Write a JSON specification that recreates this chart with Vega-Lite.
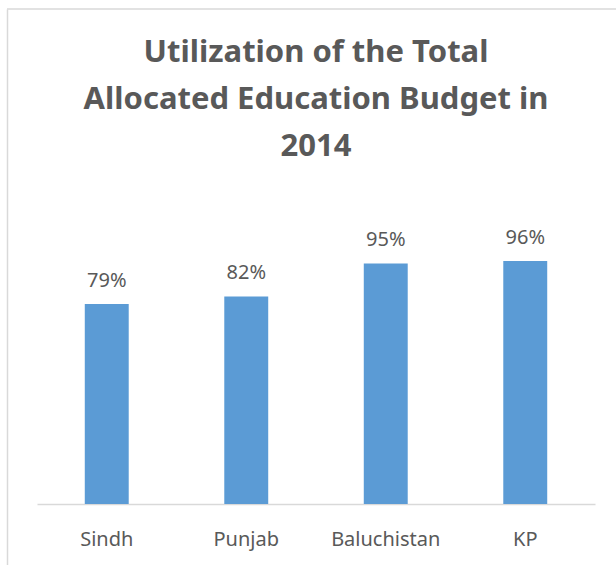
{
  "$schema": "https://vega.github.io/schema/vega-lite/v6.json",
  "autosize": {"type": "none"},
  "width": 609,
  "height": 556,
  "padding": {"left": 7, "top": 9, "right": 0, "bottom": 0},
  "background": "white",
  "config": {
    "font": "Noto Sans",
    "view": {"stroke": null}
  },
  "title": {
    "text": ["Utilization of the Total", "Allocated Education Budget in", "2014"],
    "anchor": "middle",
    "frame": "group",
    "orient": "top",
    "offset": -155,
    "dx": 4.5,
    "fontSize": 31,
    "fontWeight": "bold",
    "lineHeight": 47,
    "color": "#595959",
    "font": "Noto Sans"
  },
  "data": {
    "values": [
      {"province": "Sindh", "utilization": 0.79},
      {"province": "Punjab", "utilization": 0.82},
      {"province": "Baluchistan", "utilization": 0.95},
      {"province": "KP", "utilization": 0.96}
    ]
  },
  "encoding": {
    "x": {
      "field": "province",
      "type": "nominal",
      "sort": null,
      "scale": {"range": [30, 588], "paddingInner": 0.685, "paddingOuter": 0.3425},
      "axis": {
        "title": null,
        "labelAngle": 0,
        "ticks": false,
        "tickSize": 0,
        "labelPadding": 41,
        "labelBaseline": "alphabetic",
        "labelFontSize": 20,
        "labelColor": "#595959",
        "labelFont": "Noto Sans",
        "domainColor": "#d9d9d9",
        "domainWidth": 1.5,
        "offset": -61,
        "grid": false
      }
    },
    "y": {
      "field": "utilization",
      "type": "quantitative",
      "scale": {"domain": [-0.2409, 1.955], "range": [556, 0], "nice": false, "zero": false},
      "axis": {
        "title": null,
        "labels": false,
        "ticks": false,
        "grid": false,
        "domain": true,
        "domainColor": "#d9d9d9",
        "domainWidth": 1.5
      }
    }
  },
  "layer": [
    {"mark": {"type": "bar", "color": "#5b9bd5"}},
    {
      "mark": {"type": "text", "dy": -17, "baseline": "alphabetic", "fontSize": 20, "color": "#595959", "font": "Noto Sans"},
      "encoding": {"text": {"field": "utilization", "type": "quantitative", "format": ".0%"}}
    },
    {
      "data": {"values": [{"frame_top": 1.955}]},
      "mark": {"type": "rule", "color": "#d9d9d9", "strokeWidth": 1.5},
      "encoding": {"x": null, "y": {"field": "frame_top", "type": "quantitative"}}
    }
  ]
}
